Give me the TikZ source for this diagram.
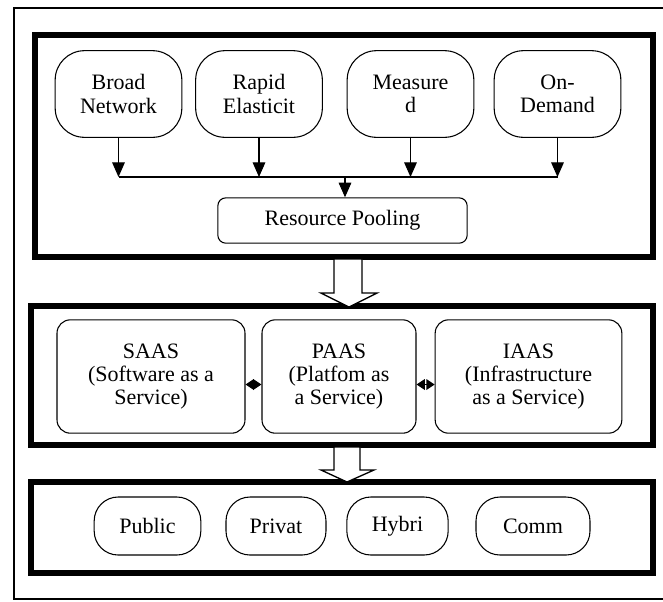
\documentclass[tikz,border=0pt]{standalone}
\usepackage{fontspec}
\setmainfont{Liberation Serif}
\usetikzlibrary{arrows.meta}

\tikzset{
  layer/.style={line width=4.5pt},
  feature/.style={draw, line width=0.8pt, rounded corners=22pt, minimum width=95pt, minimum height=65pt, align=center, inner sep=0pt},
  service/.style={draw, line width=0.8pt, rounded corners=10pt, minimum height=85pt, align=center, inner sep=0pt},
  deploy/.style={draw, line width=0.8pt, rounded corners=18pt, minimum height=43.5pt, align=center, inner sep=0pt},
  flow/.style={line width=0.8pt, -{Triangle[length=11pt,width=9.5pt]}},
  link/.style={{Triangle[length=6.2pt,width=8pt]}-{Triangle[length=6.2pt,width=8pt]}, line width=1pt},
  hollow/.style={draw, fill=white, line width=1pt}
}

\begin{document}
\begin{tikzpicture}[x=0.75pt,y=0.75pt,yscale=-1,xscale=1, font=\fontsize{16.5}{17.5}\selectfont]

\path[use as bounding box, clip] (0,0) rectangle (663,601);
\fill[white] (0,0) rectangle (663,601);

% outer frame, open to the right
\draw[line width=1.2pt] (663,8) -- (14,8) -- (14,599) -- (663,599);

% layers
\draw[layer] (35,35) rectangle (653,257);
\draw[layer] (31,306) rectangle (653,445);
\draw[layer] (31,482) rectangle (653,573);

% characteristics
\node[feature] (broad) at (118.5,94) {Broad\\Network};
\node[feature] (rapid) at (259,94) {Rapid\\Elasticit};
\node[feature] (measured) at (410.5,94) {Measure\\d};
\node[feature] (demand) at (557.5,94) {On-\\Demand};
\node[draw, line width=0.8pt, rounded corners=6pt, minimum width=187pt, minimum height=34pt, inner sep=0pt] (pool) at (342.5,220.5) {Resource Pooling};

\coordinate (bus) at (345,177);
\draw[line width=0.8pt] (broad.south |- bus) -- (demand.south |- bus);
\foreach \n in {broad,rapid,measured,demand}
  \draw[flow] (\n.south) -- (\n.south |- bus);
\draw[flow] (bus) -- (bus |- pool.north);

% hollow arrows
\draw[hollow] (334,259) -- (362,259) -- (362,293) -- (377,293) -- (349,307) -- (321,293) -- (334,293) -- cycle;
\draw[hollow] (334,447) -- (360,447) -- (360,470) -- (374,470) -- (347,482) -- (321,470) -- (334,470) -- cycle;

% service models
\node[service, minimum width=141pt] (saas) at (151,376.5) {SAAS\\(Software as a\\Service)};
\node[service, minimum width=115.5pt] (paas) at (339,376.5) {PAAS\\(Platfom as\\a Service)};
\node[service, minimum width=140pt] (iaas) at (528.5,376.5) {IAAS\\(Infrastructure\\as a Service)};
\draw[link] ([yshift=6pt]saas.east) -- ([yshift=6pt]paas.west);
\draw[link] ([yshift=6pt]paas.east) -- ([yshift=6pt]iaas.west);

% deployment models
\node[deploy, minimum width=80pt] (public) at (147.5,526) {Public};
\node[deploy, minimum width=75pt] (private) at (276,526) {Privat};
\node[deploy, minimum width=76pt] (hybrid) at (397.5,526) {Hybri};
\node[deploy, minimum width=85.5pt] (community) at (533,526) {Comm};

\end{tikzpicture}
\end{document}
